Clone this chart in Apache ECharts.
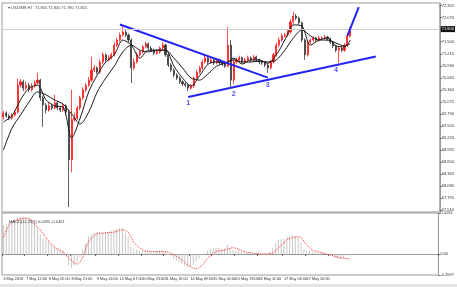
<!DOCTYPE html>
<html><head><meta charset="utf-8">
<script src="https://cdn.jsdelivr.net/npm/echarts@6/dist/echarts.min.js"></script>
<style>html,body{margin:0;padding:0;background:#fff}#c{width:457px;height:287px}</style>
</head><body><div id="c"></div>
<script>
const barCount = 154;
const openP = [69.72,69.81,69.74,69.69,69.76,69.83,70.47,70.55,70.40,70.47,
70.36,70.45,70.52,70.59,70.17,70.00,69.88,69.98,69.93,70.05,
69.93,69.88,69.98,69.83,68.70,69.65,69.69,69.93,70.17,70.36,
70.47,70.59,70.83,70.88,70.78,71.02,71.19,71.07,71.12,71.19,
71.42,71.54,71.66,71.73,71.66,71.54,70.88,71.02,71.19,71.26,
71.38,71.45,71.35,71.30,71.23,71.26,71.35,71.42,71.19,70.95,
70.83,70.71,70.64,70.55,70.50,70.47,70.40,70.45,70.64,70.78,
70.88,71.02,71.12,71.02,71.07,71.00,71.07,71.00,70.97,70.92,
71.42,70.59,71.02,71.07,71.12,71.02,71.07,71.12,71.07,71.14,
71.07,71.02,71.00,70.95,70.88,71.02,71.19,71.42,71.54,71.64,
71.66,71.73,71.97,72.11,72.06,71.95,71.54,71.19,71.49,71.54,
71.59,71.54,71.59,71.59,71.61,71.57,71.49,71.40,71.30,71.35,
71.30,71.42,71.64];
const closeP = [69.81,69.74,69.69,69.76,69.83,70.47,70.55,70.40,70.47,70.36,
70.45,70.52,70.59,70.17,70.00,69.88,69.98,69.93,70.05,69.93,
69.88,69.98,69.83,68.70,69.65,69.69,69.93,70.17,70.36,70.47,
70.59,70.83,70.88,70.78,71.02,71.19,71.07,71.12,71.19,71.42,
71.54,71.66,71.73,71.66,71.54,70.88,71.02,71.19,71.26,71.38,
71.45,71.35,71.30,71.23,71.26,71.35,71.42,71.19,70.95,70.83,
70.71,70.64,70.55,70.50,70.47,70.40,70.45,70.64,70.78,70.88,
71.02,71.12,71.02,71.07,71.00,71.07,71.00,70.97,70.92,71.42,
70.59,71.02,71.07,71.12,71.02,71.07,71.12,71.07,71.14,71.07,
71.02,71.00,70.95,70.88,71.02,71.19,71.42,71.54,71.64,71.66,
71.73,71.97,72.11,72.06,71.95,71.54,71.19,71.49,71.54,71.59,
71.54,71.59,71.59,71.61,71.57,71.49,71.40,71.30,71.35,71.30,
71.42,71.64,71.80];
const highP = [69.86,69.85,69.78,69.80,69.88,70.62,70.62,70.60,70.55,70.52,
70.52,70.58,70.76,70.62,70.22,70.05,70.07,70.03,70.24,70.10,
69.98,70.05,70.02,69.88,70.36,69.82,69.98,70.22,70.42,70.52,
70.66,71.14,70.95,70.92,71.08,71.25,71.22,71.18,71.24,71.48,
71.60,71.72,71.87,71.78,71.70,71.58,71.10,71.25,71.30,71.42,
71.50,71.48,71.40,71.34,71.31,71.39,71.49,71.45,71.22,70.99,
70.87,70.75,70.68,70.59,70.54,70.50,70.50,70.68,70.83,70.93,
71.07,71.19,71.15,71.12,71.10,71.12,71.10,71.05,71.01,71.85,
71.54,71.11,71.12,71.17,71.15,71.12,71.17,71.15,71.19,71.17,
71.10,71.06,71.04,70.99,71.07,71.24,71.48,71.60,71.70,71.71,
71.80,72.03,72.21,72.16,72.10,71.98,71.58,71.53,71.58,71.63,
71.62,71.64,71.63,71.66,71.64,71.60,71.52,71.43,71.39,71.38,
71.47,71.70,71.84];
const lowP = [69.66,69.69,69.64,69.65,69.72,69.80,70.42,70.33,70.36,70.30,
70.32,70.41,70.48,70.10,69.48,69.80,69.84,69.88,69.90,69.88,
69.83,69.84,69.78,67.58,68.40,69.60,69.65,69.88,70.12,70.31,
70.43,70.55,70.78,70.73,70.74,70.97,71.02,71.03,71.08,71.15,
71.38,71.50,71.62,71.61,71.49,70.52,70.83,70.98,71.15,71.22,
71.34,71.31,71.26,71.18,71.19,71.22,71.31,71.14,70.90,70.78,
70.66,70.59,70.50,70.45,70.42,70.33,70.36,70.41,70.60,70.74,
70.84,70.98,70.97,70.98,70.95,70.96,70.95,70.92,70.88,70.90,
70.40,70.50,70.98,71.03,70.98,70.97,71.03,71.02,71.03,71.02,
70.97,70.95,70.90,70.76,70.84,70.98,71.15,71.38,71.50,71.60,
71.62,71.69,71.93,72.01,71.90,71.49,71.07,71.15,71.45,71.50,
71.49,71.50,71.54,71.55,71.52,71.45,71.35,71.25,71.00,71.25,
71.26,71.38,71.60];
const maFast = [[0,69.60],[3,69.74],[6,70.12],[9,70.40],[12,70.47],[15,70.12],[18,69.98],[21,69.95],[24,69.22],[27,69.69],[30,70.31],[33,70.71],[36,71.02],[39,71.19],[42,71.54],[45,71.42],[48,71.11],[51,71.30],[54,71.30],[57,71.30],[60,70.92],[63,70.64],[66,70.45],[69,70.69],[72,70.97],[75,71.02],[78,70.99],[81,71.11],[84,70.97],[87,71.07],[90,71.07],[93,70.99],[96,71.19],[99,71.54],[102,71.90],[105,71.87],[108,71.42],[111,71.54],[114,71.59],[117,71.40],[120,71.38],[122,71.54]];
const maSlow = [[0,68.93],[3,69.45],[6,69.76],[9,70.07],[12,70.31],[15,70.24],[18,70.12],[21,70.02],[24,69.79],[27,69.55],[30,69.83],[33,70.31],[36,70.64],[39,70.92],[42,71.26],[45,71.42],[48,71.30],[51,71.26],[54,71.30],[57,71.30],[60,71.11],[63,70.88],[66,70.64],[69,70.59],[72,70.74],[75,70.92],[78,70.99],[81,71.07],[84,71.02],[87,71.02],[90,71.04],[93,71.02],[96,71.07],[99,71.30],[102,71.59],[105,71.78],[108,71.64],[111,71.54],[114,71.54],[117,71.47],[120,71.40],[122,71.45]];
const macdHist = [0.37,0.39,0.41,0.43,0.45,0.47,0.48,0.48,0.47,0.47,
0.45,0.40,0.34,0.25,0.20,0.19,0.16,0.12,0.09,0.07,
0.05,0.04,0.00,-0.14,-0.18,-0.15,-0.11,-0.04,0.06,0.14,
0.22,0.25,0.27,0.28,0.27,0.27,0.28,0.29,0.30,0.31,
0.32,0.33,0.33,0.28,0.22,0.10,0.07,0.05,0.04,0.04,
0.04,0.03,0.03,0.04,0.04,0.04,0.05,0.03,-0.01,-0.03,
-0.06,-0.09,-0.11,-0.13,-0.15,-0.17,-0.16,-0.14,-0.10,-0.06,
-0.02,0.01,0.04,0.06,0.07,0.08,0.08,0.07,0.07,0.12,
0.07,0.05,0.04,0.04,0.03,0.02,0.02,0.02,0.01,0.01,
0.01,0.00,-0.01,-0.02,0.03,0.08,0.14,0.18,0.19,0.20,
0.22,0.23,0.24,0.23,0.21,0.15,0.06,0.04,0.04,0.03,
0.03,0.02,0.02,0.01,0.01,0.00,-0.02,-0.05,-0.06,-0.06,
-0.05,-0.03,-0.01];
const macdSignal = [[0,0.21],[2,0.37],[5,0.44],[8,0.46],[10,0.43],[11,0.38],[13,0.31],[15,0.21],[18,0.09],[21,0.03],[23,-0.05],[26,-0.13],[28,-0.04],[30,0.15],[33,0.26],[36,0.27],[39,0.28],[42,0.31],[44,0.28],[46,0.15],[48,0.08],[50,0.04],[53,0.03],[57,0.03],[59,0.01],[62,-0.05],[65,-0.14],[68,-0.19],[70,-0.15],[72,-0.06],[75,0.03],[78,0.05],[81,0.08],[85,0.03],[88,0.01],[92,0.00],[95,0.01],[97,0.08],[99,0.14],[100,0.18],[102,0.21],[104,0.22],[105,0.21],[107,0.12],[109,0.05],[111,0.03],[114,0.00],[117,-0.03],[119,-0.05],[122,-0.06]];
const priceTicks = [72.355,72.070,71.785,71.500,71.215,70.930,70.645,70.360,70.075,69.790,69.505,69.220,68.935,68.650,68.365,68.080,67.795,67.510];
const macdTicks = [0.5261, 0, -0.2697];
const timeTickIndex = [0,8,16,24,33,41,49,57,66,74,82,90,99,107,115];
const timeTickLabels = ['4 May 2018','7 May 12:00','8 May 05:00','8 May 21:00','9 May 14:00','10 May 07:00','10 May 23:00','11 May 16:00','14 May 09:00','15 May 02:00','15 May 18:00','16 May 11:00','17 May 04:00','17 May 20:00','18 May 13:00'];
const trendDown = [[41,71.91],[93,70.65]];
const trendUp = [[65,70.19],[131,71.15]];
const arrowUp = [[121,71.64],[125,72.32]];
const pivots = [[65,70.05,'1'],[81,70.26,'2'],[93,70.47,'3'],[117,70.83,'4']];
const chartTitle = 'USDINR,H1  71.805 71.845 71.780 71.815';
const macdTitle = 'MACD(12,26,9) 0.0495 -0.0461';

const categories = Array.from({length: barCount}, (_, i) => String(i));
const candles = closeP.map((c, i) => [openP[i], c, lowP[i], highP[i]]);
const lastClose = closeP[closeP.length - 1];
const FONT = 'Liberation Sans';
const blue = '#2323f5';

const chart = echarts.init(document.getElementById('c'), null, {renderer: 'canvas'});
chart.setOption({
  animation: false,
  backgroundColor: '#ffffff',
  title: [
    {text: '\u25BE ' + chartTitle, left: 3, top: 1, textStyle: {fontSize: 4, fontWeight: 'normal', color: '#444', fontFamily: FONT}},
    {text: macdTitle, left: 4, top: 215, textStyle: {fontSize: 4, fontWeight: 'normal', color: '#444', fontFamily: FONT}}
  ],
  graphic: [
    {type: 'rect', left: 0, bottom: 0, shape: {width: 457, height: 3}, style: {fill: '#e4e4e4'}, silent: true}
  ],
  grid: [
    {left: 2, right: 15, top: 3, height: 209, show: true, borderColor: '#9a9a9a', borderWidth: 1},
    {left: 2, right: 15, top: 213, height: 62, show: true, borderColor: '#9a9a9a', borderWidth: 1}
  ],
  xAxis: [
    {type: 'category', gridIndex: 0, data: categories, boundaryGap: true,
     axisLine: {show: false}, axisTick: {show: false}, axisLabel: {show: false}, splitLine: {show: false}},
    {type: 'category', gridIndex: 1, data: categories, boundaryGap: true,
     axisLine: {show: true, lineStyle: {color: '#9a9a9a'}},
     axisTick: {show: true, length: 2, interval: (i) => timeTickIndex.includes(i), lineStyle: {color: '#666'}},
     axisLabel: {show: true, showMinLabel: true, interval: (i) => timeTickIndex.includes(i), align: 'left', margin: 2,
       fontSize: 3.8, color: '#333', fontFamily: FONT,
       formatter: (v, i) => { const k = timeTickIndex.indexOf(i); return k >= 0 ? timeTickLabels[k] : ''; }},
     splitLine: {show: false}}
  ],
  yAxis: [
    {type: 'value', gridIndex: 0, position: 'right', min: 67.462, max: 72.419, scale: true,
     axisLine: {show: true, lineStyle: {color: '#9a9a9a'}},
     axisTick: {show: true, length: 2, customValues: priceTicks, lineStyle: {color: '#666'}},
     axisLabel: {show: true, customValues: priceTicks, fontSize: 4, color: '#333', margin: 2, fontFamily: FONT,
       formatter: (v) => v.toFixed(3)},
     splitLine: {show: false}},
    {type: 'value', gridIndex: 1, position: 'right', min: -0.2697, max: 0.5261,
     axisLine: {show: true, lineStyle: {color: '#9a9a9a'}},
     axisTick: {show: true, length: 2, customValues: macdTicks, lineStyle: {color: '#666'}},
     axisLabel: {show: true, customValues: macdTicks, fontSize: 4, color: '#333', margin: 2, fontFamily: FONT,
       formatter: (v) => v === 0 ? '0.00' : v.toFixed(4)},
     splitLine: {show: false}}
  ],
  series: [
    {type: 'candlestick', xAxisIndex: 0, yAxisIndex: 0, data: candles, barWidth: 1.6,
     itemStyle: {color: '#ff2020', color0: '#3a3a3a', borderColor: '#ff2020', borderColor0: '#3a3a3a', borderWidth: 0.8},
     markLine: {silent: true, symbol: 'none', data: [{yAxis: lastClose}],
       lineStyle: {color: '#cfcfcf', type: 'solid', width: 1},
       label: {show: true, position: 'end', distance: 1, formatter: () => lastClose.toFixed(3),
         backgroundColor: '#111', color: '#fff', fontSize: 4, padding: [1, 1], fontFamily: FONT}}},
    {type: 'line', xAxisIndex: 0, yAxisIndex: 0, data: maFast, symbol: 'none', smooth: 0.3,
     lineStyle: {color: '#1a1a1a', width: 1}},
    {type: 'line', xAxisIndex: 0, yAxisIndex: 0, data: maSlow, symbol: 'none', smooth: 0.3,
     lineStyle: {color: '#1a1a1a', width: 1}},
    {type: 'line', xAxisIndex: 0, yAxisIndex: 0, data: trendDown, symbol: 'none',
     lineStyle: {color: blue, width: 2}},
    {type: 'line', xAxisIndex: 0, yAxisIndex: 0, data: trendUp, symbol: 'none',
     lineStyle: {color: blue, width: 2},
     markLine: {silent: true, symbol: ['none', 'arrow'], symbolSize: [0, 7],
       lineStyle: {color: blue, width: 2, type: 'solid'}, label: {show: false},
       data: [[{coord: arrowUp[0]}, {coord: arrowUp[1]}]]}},
    {type: 'scatter', xAxisIndex: 0, yAxisIndex: 0, data: pivots, symbolSize: 1,
     itemStyle: {color: 'rgba(0,0,0,0)'},
     label: {show: true, position: 'inside', formatter: (p) => p.data[2], color: blue, fontSize: 7, fontWeight: 'bold', fontFamily: FONT}},
    {type: 'bar', xAxisIndex: 1, yAxisIndex: 1, data: macdHist, barWidth: 1,
     itemStyle: {color: '#c6c6c6'}},
    {type: 'line', xAxisIndex: 1, yAxisIndex: 1, data: macdSignal, symbol: 'none', smooth: 0.3,
     lineStyle: {color: '#ff3030', width: 1, type: 'dotted'}}
  ]
});
</script></body></html>
